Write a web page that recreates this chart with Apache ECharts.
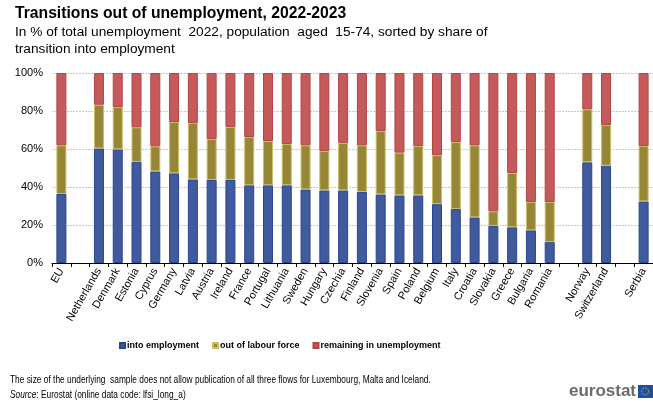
<!DOCTYPE html>
<html>
<head>
<meta charset="utf-8">
<script src="https://cdn.jsdelivr.net/npm/echarts@6/dist/echarts.min.js"></script>
<style>
  html, body { margin: 0; padding: 0; background: #fff; }
  #main { width: 653px; height: 405px; }
</style>
</head>
<body>
<div id="main"></div>
<script>
// empty strings are the gaps between country groups
var countries = ['EU', '', 'Netherlands', 'Denmark', 'Estonia', 'Cyprus', 'Germany', 'Latvia',
  'Austria', 'Ireland', 'France', 'Portugal', 'Lithuania', 'Sweden', 'Hungary', 'Czechia',
  'Finland', 'Slovenia', 'Spain', 'Poland', 'Belgium', 'Italy', 'Croatia', 'Slovakia', 'Greece',
  'Bulgaria', 'Romania', ' ', 'Norway', 'Switzerland', '  ', 'Serbia'];

var intoEmployment = [36.3, '-', 60.3, 59.8, 53.2, 48.2, 47.2, 44.0, 43.7, 43.7, 40.9, 40.9, 40.9,
  38.7, 38.2, 38.2, 37.4, 36.1, 35.6, 35.6, 31.0, 28.4, 24.0, 19.5, 18.8, 17.2, 11.0, '-',
  53.0, 51.2, '-', 32.4];
var outOfLabourForce = [25.6, '-', 23.0, 22.3, 18.2, 13.2, 27.0, 29.7, 21.6, 27.9, 25.4, 23.3, 21.7,
  23.2, 20.7, 25.0, 24.5, 33.4, 22.5, 26.0, 25.8, 35.3, 37.9, 7.7, 28.6, 14.9, 21.1, '-',
  28.0, 21.4, '-', 29.2];
var remaining = intoEmployment.map(function (v, i) {
  return v === '-' ? '-' : +(100 - v - outOfLabourForce[i]).toFixed(1);
});

var yTicks = [0, 20, 40, 60, 80, 100];

var chart = echarts.init(document.getElementById('main'), null, { renderer: 'canvas' });
var font = 'Liberation Sans, Arial, sans-serif';

function bar(name, data, color, border) {
  return {
    name: name,
    type: 'bar',
    stack: 'total',
    data: data,
    barWidth: 10,
    itemStyle: { color: color, borderColor: border, borderWidth: 1 }
  };
}

var option = {
  animation: false,
  textStyle: { fontFamily: font },
  title: [{
    text: 'Transitions out of unemployment, 2022-2023',
    left: 10, top: 1,
    textStyle: { fontSize: 15.7, fontWeight: 'bold', color: '#000' }
  }, {
    text: 'In % of total unemployment  2022, population  aged  15-74, sorted by share of\ntransition into employment',
    left: 10, top: 19,
    textStyle: { fontSize: 13.7, fontWeight: 'normal', color: '#000', lineHeight: 17 }
  }],
  legend: {
    top: 336, left: 114,
    itemWidth: 5, itemHeight: 5, itemGap: 13,
    icon: 'rect',
    textStyle: { fontSize: 9, fontWeight: 'bold', color: '#000', padding: [0, 0, 0, -3] },
    data: ['into employment', 'out of labour force', 'remaining in unemployment']
  },
  grid: { left: 52, top: 73, width: 605, height: 190, containLabel: false },
  xAxis: {
    type: 'category',
    data: countries,
    axisLine: { lineStyle: { color: '#000' } },
    axisTick: { show: true, alignWithLabel: false, interval: 0, length: 4, lineStyle: { color: '#000' } },
    axisLabel: { interval: 0, rotate: 60, fontSize: 11, color: '#000', margin: 6 }
  },
  yAxis: {
    type: 'value',
    min: 0, max: 100, interval: 20,
    axisLabel: {
      fontSize: 11, color: '#000', margin: 9,
      formatter: function (v) { return yTicks.indexOf(v) >= 0 ? v + '%' : ''; }
    },
    axisLine: { show: false },
    axisTick: { show: false },
    splitLine: { lineStyle: { color: '#c8c8c8', type: [2, 1] } }
  },
  series: [
    bar('into employment', intoEmployment, '#3f5a9d', '#2a4690'),
    bar('out of labour force', outOfLabourForce, '#978636', '#c9bd6a'),
    bar('remaining in unemployment', remaining, '#c65a5a', '#b34444')
  ],
  graphic: [{
    // the original uses a narrow font, so squeeze the notes horizontally
    type: 'text', x: 10, y: 374, scaleX: 0.725,
    style: {
      text: 'The size of the underlying  sample does not allow publication of all three flows for Luxembourg, Malta and Iceland.',
      fontSize: 11.5, fill: '#000', fontFamily: font
    }
  }, {
    type: 'text', x: 10, y: 389, scaleX: 0.725,
    style: {
      text: '{i|Source}: Eurostat (online data code: lfsi_long_a)',
      fontSize: 11.5, fill: '#000', fontFamily: font,
      rich: { i: { fontStyle: 'italic', fontSize: 11.5, fontFamily: font } }
    }
  }, {
    type: 'text', right: 17, top: 383,
    style: { text: 'eurostat', fontSize: 17, fontWeight: 'bold', fill: '#6b6b6b', fontFamily: font }
  }, {
    type: 'rect', shape: { x: 638, y: 385, width: 15, height: 13 },
    style: { fill: '#1e4fa0' }
  }, {
    type: 'circle', shape: { cx: 645, cy: 391.5, r: 3.5 },
    style: { fill: 'none', stroke: '#f0d000', lineWidth: 1, lineDash: [1, 1] }
  }]
};

chart.setOption(option);
</script>
</body>
</html>
